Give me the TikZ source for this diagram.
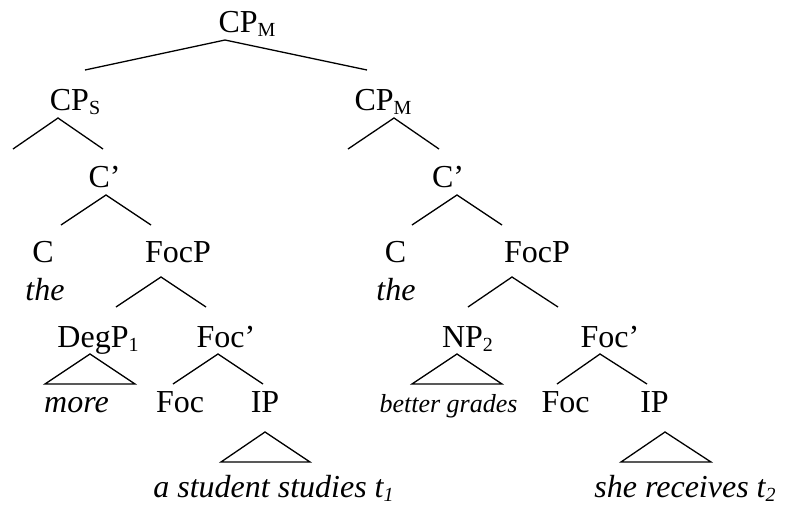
\documentclass[tikz,border=0pt]{standalone}
\usepackage{fontspec}
\setmainfont{Liberation Serif}
\usepackage{tikz}
\newcommand{\lsub}[1]{\raisebox{-2pt}{\fontsize{10}{12}\selectfont #1}}
\tikzstyle{cat} = [anchor=base, inner sep=0pt, font=\fontsize{16}{19}\selectfont]
\tikzstyle{word} = [cat, font=\fontsize{16}{19}\selectfont\itshape]
\tikzstyle{smallword} = [cat, font=\fontsize{13}{16}\selectfont\itshape]
\tikzstyle{branch} = [line width=0.65pt, line join=miter]

\begin{document}
\begin{tikzpicture}[x=0.5pt, y=-0.5pt]
\useasboundingbox (0,0) rectangle (787,505);

% labels
\node (cpm) [cat] at (247,32) {CP\lsub{M}};
\node (cps) [cat] at (75,110) {CP\lsub{S}};
\node (cpm2) [cat] at (383,110) {CP\lsub{M}};
\node (cbar1) [cat] at (104.5,187) {C'};
\node (cbar2) [cat] at (448,187) {C'};
\node (c1) [cat] at (43,262) {C};
\node (the1) [word] at (45,300) {the};
\node (focp1) [cat] at (178,262) {FocP};
\node (c2) [cat] at (395.5,262) {C};
\node (the2) [word] at (396,300) {the};
\node (focp2) [cat] at (537,262) {FocP};
\node (degp) [cat] at (98,347) {DegP\lsub{1}};
\node (focbar1) [cat] at (226,347) {Foc'};
\node (np) [cat] at (467.5,347) {NP\lsub{2}};
\node (focbar2) [cat] at (610,347) {Foc'};
\node (more) [word] at (76.5,412) {more};
\node (foc1) [cat] at (180,412) {Foc};
\node (ip1) [cat] at (265,412) {IP};
\node (grades) [smallword] at (448.5,412) {better grades};
\node (foc2) [cat] at (565.5,412) {Foc};
\node (ip2) [cat] at (654.5,412) {IP};
\node (yield1) [word] at (273.5,497) {a student studies t\lsub{1}};
\node (yield2) [word] at (685,497) {she receives t\lsub{2}};

% branch points
\coordinate (cpm-b) at (225,40);
\coordinate (cps-t) at (85,70);
\coordinate (cpm2-t) at (367,70);
\coordinate (cps-b) at (58,118);
\coordinate (cps-e) at (13,149);
\coordinate (cbar1-t) at (103,149);
\coordinate (cpm2-b) at (394,118);
\coordinate (cpm2-e) at (348,149);
\coordinate (cbar2-t) at (439,149);
\coordinate (cbar1-b) at (106,195);
\coordinate (c1-t) at (61,225);
\coordinate (focp1-t) at (151,225);
\coordinate (cbar2-b) at (457,195);
\coordinate (c2-t) at (412,225);
\coordinate (focp2-t) at (502,225);
\coordinate (focp1-b) at (161,277);
\coordinate (degp-t) at (116,307);
\coordinate (focbar1-t) at (206,307);
\coordinate (focp2-b) at (512,277);
\coordinate (np-t) at (468,307);
\coordinate (focbar2-t) at (558,307);
\coordinate (degp-b) at (90,354);
\coordinate (more-l) at (45,384);
\coordinate (more-r) at (135,384);
\coordinate (focbar1-b) at (218,354);
\coordinate (foc1-t) at (173,384);
\coordinate (ip1-t) at (263,384);
\coordinate (np-b) at (457,354);
\coordinate (grades-l) at (412,384);
\coordinate (grades-r) at (502,384);
\coordinate (focbar2-b) at (600,354);
\coordinate (foc2-t) at (557,384);
\coordinate (ip2-t) at (647,384);
\coordinate (ip1-b) at (265,432);
\coordinate (yield1-l) at (221,462);
\coordinate (yield1-r) at (310,462);
\coordinate (ip2-b) at (665,432);
\coordinate (yield2-l) at (621,462);
\coordinate (yield2-r) at (711,462);

% branches
\draw [branch] (cps-t) -- (cpm-b) -- (cpm2-t);
\draw [branch] (cps-e) -- (cps-b) -- (cbar1-t);
\draw [branch] (cpm2-e) -- (cpm2-b) -- (cbar2-t);
\draw [branch] (c1-t) -- (cbar1-b) -- (focp1-t);
\draw [branch] (c2-t) -- (cbar2-b) -- (focp2-t);
\draw [branch] (degp-t) -- (focp1-b) -- (focbar1-t);
\draw [branch] (np-t) -- (focp2-b) -- (focbar2-t);
\draw [branch] (foc1-t) -- (focbar1-b) -- (ip1-t);
\draw [branch] (foc2-t) -- (focbar2-b) -- (ip2-t);

% triangles
\draw [branch] (degp-b) -- (more-l) -- (more-r) -- cycle;
\draw [branch] (np-b) -- (grades-l) -- (grades-r) -- cycle;
\draw [branch] (ip1-b) -- (yield1-l) -- (yield1-r) -- cycle;
\draw [branch] (ip2-b) -- (yield2-l) -- (yield2-r) -- cycle;

\end{tikzpicture}
\end{document}
